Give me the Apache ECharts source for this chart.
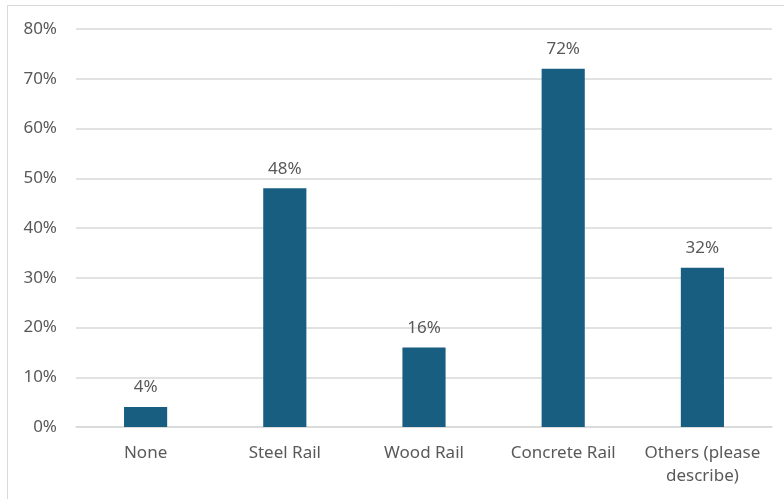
<!DOCTYPE html>
<html>
<head>
<meta charset="utf-8">
<style>
  html, body { margin: 0; padding: 0; background: #ffffff; }
  #chart { width: 784px; height: 499px; }
</style>
<script src="https://cdn.jsdelivr.net/npm/echarts@6/dist/echarts.min.js"></script>
</head>
<body>
<div id="chart"></div>
<script>
// Share of respondents by rail type (percent)
const categories = ['None', 'Steel Rail', 'Wood Rail', 'Concrete Rail', 'Others (please\ndescribe)'];
const values = [4, 48, 16, 72, 32];
const yTicks = [0, 10, 20, 30, 40, 50, 60, 70, 80];

const textColor = '#595959';
const font = '"Noto Sans", "Open Sans", sans-serif';

const chart = echarts.init(document.getElementById('chart'), null, { renderer: 'canvas' });
chart.setOption({
  animation: false,
  backgroundColor: '#ffffff',
  graphic: [{
    type: 'rect',
    shape: { x: 7.5, y: 5.5, width: 800, height: 520 },
    style: { fill: 'none', stroke: '#d9d9d9', lineWidth: 1 },
    silent: true
  }],
  grid: { left: 76, right: 12, top: 29, bottom: 72, containLabel: false },
  xAxis: {
    type: 'category',
    data: categories,
    axisLine: { show: true, lineStyle: { color: '#d9d9d9', width: 1.5 } },
    axisTick: { show: false },
    axisLabel: {
      color: textColor, fontFamily: font, fontSize: 17, margin: 15,
      lineHeight: 23, interval: 0
    }
  },
  yAxis: {
    type: 'value',
    min: yTicks[0],
    max: yTicks[yTicks.length - 1],
    interval: 10,
    axisLine: { show: false },
    axisTick: { show: false },
    splitLine: { lineStyle: { color: '#d9d9d9', width: 1.5 } },
    axisLabel: {
      color: textColor, fontFamily: font, fontSize: 17, margin: 19,
      formatter: v => v + '%'
    }
  },
  series: [{
    type: 'bar',
    data: values,
    barWidth: '31%',
    itemStyle: { color: '#175e80' },
    label: {
      show: true, position: 'top', distance: 11,
      color: textColor, fontFamily: font, fontSize: 17,
      formatter: p => p.value + '%'
    }
  }]
});
</script>
</body>
</html>
